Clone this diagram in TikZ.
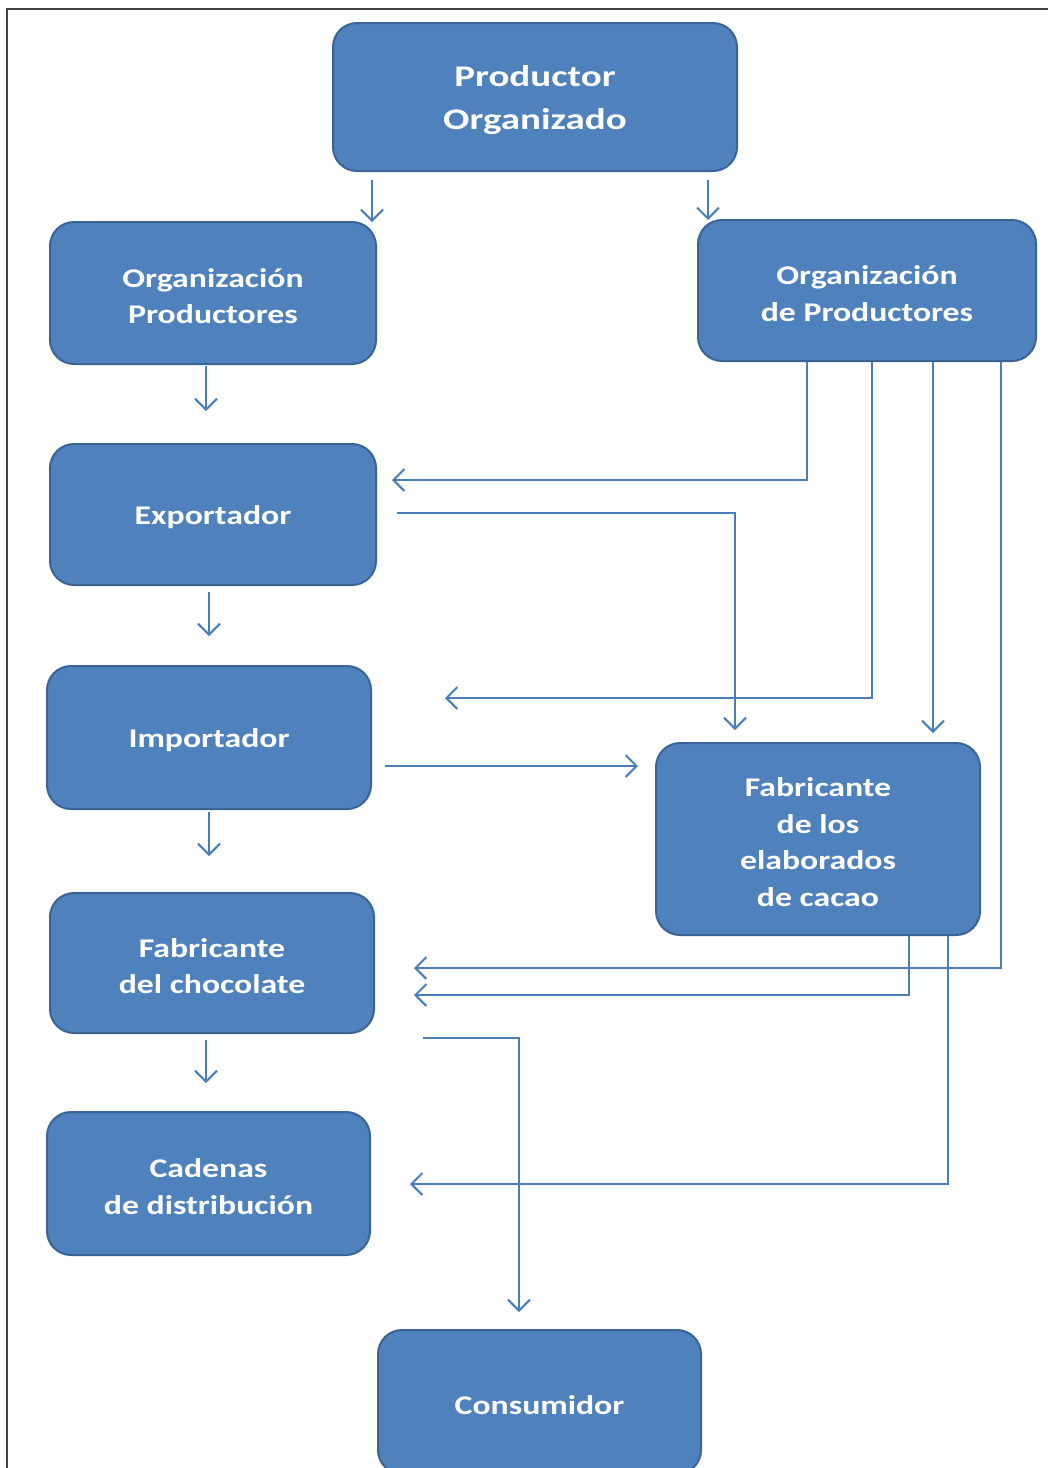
\documentclass[tikz,border=0pt]{standalone}
\usepackage{fontspec}
\usepackage{graphicx}
\setmainfont{Carlito}
\usetikzlibrary{arrows.meta,calc}
\definecolor{boxfill}{HTML}{4F81BD}
\definecolor{boxline}{HTML}{3A6396}
\definecolor{linkc}{HTML}{4A7EBB}
\definecolor{frame}{HTML}{444444}
\newcommand{\sxl}[1]{\raisebox{-3pt}[\height][\depth]{\scalebox{1.25}[1]{#1}}}
\newcommand{\sxb}[1]{\raisebox{-3pt}[\height][\depth]{\scalebox{1.3}[1]{#1}}}
\tikzset{
  box/.style={draw=boxline, line width=2pt, fill=boxfill, rounded corners=24pt,
    text=white, font=\bfseries\fontsize{27}{36.5}\selectfont, align=center, inner sep=0pt},
  bigbox/.style={box, font=\bfseries\fontsize{30}{43}\selectfont},
  arr/.style={draw=linkc, line width=2pt, -{Straight Barb[length=11pt,width=22pt,line width=2pt]}},
}
\begin{document}
\begin{tikzpicture}[x=1pt,y=-1pt]
\path[use as bounding box, clip] (0,0) rectangle (1048,1468);
\fill[white] (0,0) rectangle (1048,1468);
\draw[frame, line width=2pt] (7,1470) -- (7,9) -- (1050,9);

\node[bigbox, minimum width=404pt, minimum height=148pt] (po) at (535,97) {\sxb{Productor}\\\sxb{Organizado}};
\node[box, minimum width=326pt, minimum height=142pt] (op) at (213,293) {\sxl{Organización}\\\sxl{Productores}};
\node[box, minimum width=338pt, minimum height=141pt] (od) at (867,290.5) {\sxl{Organización}\\\sxl{de Productores}};
\node[box, minimum width=326pt, minimum height=141pt] (ex) at (213,514.5) {\sxl{Exportador}};
\node[box, minimum width=324pt, minimum height=143pt] (im) at (209,737.5) {\sxl{Importador}};
\node[box, minimum width=324pt, minimum height=192pt] (fe) at (818,839) {\sxl{Fabricante}\\\sxl{de los}\\\sxl{elaborados}\\\sxl{de cacao}};
\node[box, minimum width=324pt, minimum height=140pt] (fc) at (212,963) {\sxl{Fabricante}\\\sxl{del chocolate}};
\node[box, minimum width=323pt, minimum height=143pt] (cd) at (208.5,1183.5) {\sxl{Cadenas}\\\sxl{de distribución}};
\node[box, minimum width=323pt, minimum height=144pt] (co) at (539.5,1402) {\sxl{Consumidor}};

% free ends and routing points
\coordinate (aS) at (372,180); \coordinate (aE) at (372,222);
\coordinate (bS) at (708,180); \coordinate (bE) at (708,220);
\coordinate (cS) at (206,366); \coordinate (cE) at (206,411);
\coordinate (dS) at (209,592); \coordinate (dE) at (209,636);
\coordinate (eS) at (209,812); \coordinate (eE) at (209,856);
\coordinate (fS) at (206,1040); \coordinate (fE) at (206,1083);
\coordinate (gE) at (392,480);
\coordinate (hS) at (397,513); \coordinate (hE) at (735,730);
\coordinate (iE) at (445,698);
\coordinate (jE) at (933,733);
\coordinate (kS) at (385,766); \coordinate (kE) at (638,766);
\coordinate (lE) at (414,968);
\coordinate (mE) at (414,995);
\coordinate (nE) at (410,1184);
\coordinate (oS) at (423,1038); \coordinate (oE) at (519,1312);

\draw[arr] (aS) -- (aE);
\draw[arr] (bS) -- (bE);
\draw[arr] (cS) -- (cE);
\draw[arr] (dS) -- (dE);
\draw[arr] (eS) -- (eE);
\draw[arr] (fS) -- (fE);
\draw[arr] (od.south -| 807,0) |- (gE);
\draw[arr] (hS) -| (hE);
\draw[arr] (od.south -| 872,0) |- (iE);
\draw[arr] (od.south -| jE) -- (jE);
\draw[arr] (kS) -- (kE);
\draw[arr] (od.south -| 1001,0) |- (lE);
\draw[arr] (fe.south -| 909,0) |- (mE);
\draw[arr] (fe.south -| 948,0) |- (nE);
\draw[arr] (oS) -| (oE);
\end{tikzpicture}
\end{document}
